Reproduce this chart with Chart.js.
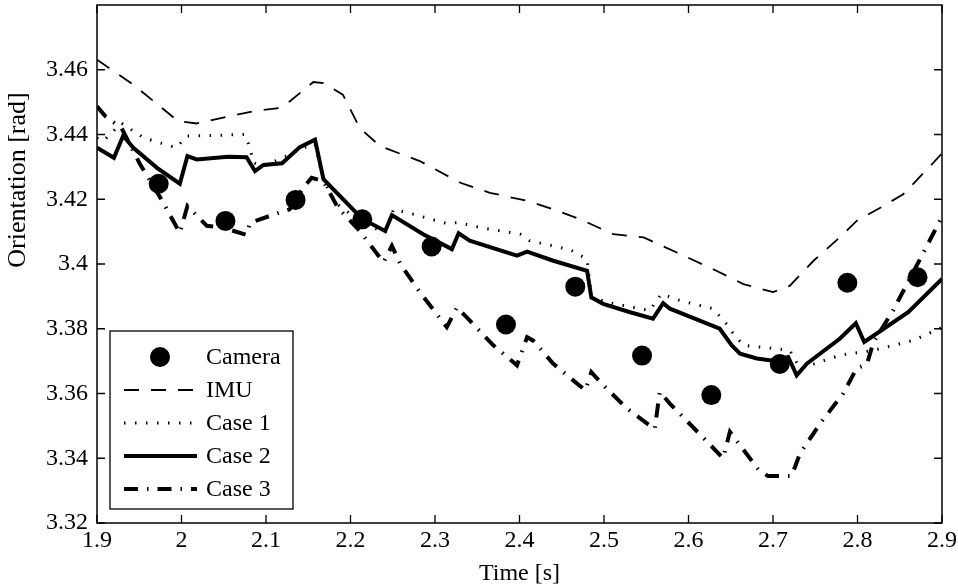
<!DOCTYPE html>
<html><head><meta charset="utf-8">
<script src="https://cdn.jsdelivr.net/npm/chart.js@4"></script>
<style>html,body{margin:0;padding:0;background:#fff}</style>
</head><body>
<canvas id="c" width="958" height="588"></canvas>
<script>
// ---- data ----
const xTicks = [1.9, 2, 2.1, 2.2, 2.3, 2.4, 2.5, 2.6, 2.7, 2.8, 2.9];
const yTicks = [3.32, 3.34, 3.36, 3.38, 3.4, 3.42, 3.44, 3.46];

const camT = [1.973, 2.052, 2.135, 2.214, 2.296, 2.384, 2.466, 2.545, 2.627, 2.708, 2.788, 2.871];
const camY = [3.4248, 3.4133, 3.4198, 3.4138, 3.4054, 3.3813, 3.3930, 3.3717, 3.3595, 3.3691, 3.3942, 3.3959];

const imuT = [1.900, 1.943, 1.996, 2.018, 2.061, 2.085, 2.117, 2.128, 2.156, 2.168, 2.191, 2.211, 2.235, 2.282, 2.330, 2.365, 2.409, 2.440, 2.472, 2.511, 2.547, 2.590, 2.633, 2.665, 2.700, 2.720, 2.748, 2.779, 2.799, 2.827, 2.854, 2.888, 2.900];
const imuY = [3.4631, 3.4554, 3.4441, 3.4434, 3.4459, 3.4472, 3.4482, 3.4502, 3.4562, 3.4559, 3.4523, 3.4420, 3.4364, 3.4318, 3.4251, 3.4220, 3.4195, 3.4169, 3.4138, 3.4092, 3.4082, 3.4031, 3.3979, 3.3938, 3.3913, 3.3933, 3.4010, 3.4082, 3.4133, 3.4174, 3.4215, 3.4308, 3.4342];

const case1T = [1.900, 1.907, 1.929, 1.955, 1.994, 2.006, 2.075, 2.081, 2.085, 2.097, 2.128, 2.144, 2.158, 2.168, 2.184, 2.214, 2.241, 2.251, 2.274, 2.314, 2.328, 2.353, 2.401, 2.412, 2.460, 2.480, 2.485, 2.503, 2.554, 2.568, 2.590, 2.629, 2.645, 2.653, 2.665, 2.704, 2.720, 2.732, 2.779, 2.818, 2.866, 2.900];
const case1Y = [3.4389, 3.4379, 3.4435, 3.4390, 3.4359, 3.4395, 3.4400, 3.4359, 3.4313, 3.4302, 3.4338, 3.4359, 3.4370, 3.4256, 3.4185, 3.4127, 3.4096, 3.4169, 3.4154, 3.4125, 3.4128, 3.4113, 3.4092, 3.4072, 3.4044, 3.4015, 3.3899, 3.3882, 3.3856, 3.3908, 3.3887, 3.3862, 3.3815, 3.3785, 3.3749, 3.3738, 3.3733, 3.3677, 3.3718, 3.3733, 3.3764, 3.3804];

const case2T = [1.900, 1.920, 1.931, 1.943, 1.971, 1.998, 2.007, 2.018, 2.055, 2.077, 2.087, 2.097, 2.119, 2.140, 2.158, 2.168, 2.214, 2.241, 2.249, 2.286, 2.320, 2.328, 2.341, 2.397, 2.409, 2.440, 2.480, 2.485, 2.499, 2.531, 2.558, 2.570, 2.578, 2.637, 2.651, 2.661, 2.681, 2.698, 2.718, 2.728, 2.740, 2.779, 2.798, 2.808, 2.831, 2.860, 2.900];
const case2Y = [3.4359, 3.4328, 3.4396, 3.4359, 3.4297, 3.4248, 3.4333, 3.4323, 3.4331, 3.4330, 3.4287, 3.4306, 3.4311, 3.4361, 3.4384, 3.4262, 3.4139, 3.4102, 3.4151, 3.4092, 3.4046, 3.4095, 3.4072, 3.4026, 3.4038, 3.4010, 3.3979, 3.3897, 3.3877, 3.3851, 3.3831, 3.3879, 3.3862, 3.3800, 3.3749, 3.3723, 3.3708, 3.3702, 3.3713, 3.3656, 3.3692, 3.3769, 3.3817, 3.3759, 3.3800, 3.3851, 3.3954];

const case3T = [1.900, 1.910, 1.929, 1.951, 1.975, 1.998, 2.007, 2.030, 2.049, 2.077, 2.081, 2.105, 2.128, 2.144, 2.154, 2.168, 2.185, 2.211, 2.239, 2.249, 2.259, 2.282, 2.314, 2.326, 2.339, 2.369, 2.397, 2.409, 2.416, 2.440, 2.468, 2.478, 2.485, 2.497, 2.527, 2.560, 2.566, 2.578, 2.618, 2.641, 2.649, 2.683, 2.694, 2.722, 2.732, 2.756, 2.783, 2.799, 2.811, 2.819, 2.842, 2.874, 2.900];
const case3Y = [3.4487, 3.4456, 3.4420, 3.4308, 3.4205, 3.4096, 3.4179, 3.4118, 3.4112, 3.4090, 3.4127, 3.4149, 3.4169, 3.4236, 3.4266, 3.4256, 3.4174, 3.4102, 3.4005, 3.4056, 3.4000, 3.3913, 3.3805, 3.3866, 3.3831, 3.3749, 3.3687, 3.3774, 3.3764, 3.3692, 3.3631, 3.3610, 3.3666, 3.3631, 3.3554, 3.3490, 3.3605, 3.3569, 3.3462, 3.3400, 3.3482, 3.3364, 3.3345, 3.3345, 3.3415, 3.3508, 3.3600, 3.3678, 3.3690, 3.3759, 3.3856, 3.4015, 3.4146];

const seriesNames = ['Camera', 'IMU', 'Case 1', 'Case 2', 'Case 3'];
const xTitle = 'Time [s]';
const yTitle = 'Orientation [rad]';

// ---- styling / build ----
const FAMILY = '"Liberation Serif", "Times New Roman", Times, serif';
const FS = 24;
const pts = (t, v) => t.map((x, i) => ({x: x, y: v[i]}));
const fmt = v => String(Number(Number(v).toFixed(2)));

const lineStyles = [
  null,
  {borderWidth: 1.8, borderDash: [15, 12]},
  {borderWidth: 3, borderDash: [1.5, 9.5]},
  {borderWidth: 4, borderDash: []},
  {borderWidth: 4, borderDash: [14, 9, 1.5, 9]}
];

const datasets = [
  {label: seriesNames[0], data: pts(camT, camY), showLine: false, pointRadius: 10, pointHoverRadius: 10,
   pointBackgroundColor: '#000', pointBorderColor: '#000', pointBorderWidth: 0, order: 5},
  {label: seriesNames[1], data: pts(imuT, imuY), order: 4},
  {label: seriesNames[2], data: pts(case1T, case1Y), order: 3},
  {label: seriesNames[3], data: pts(case2T, case2Y), order: 2},
  {label: seriesNames[4], data: pts(case3T, case3Y), order: 1}
];
for (let i = 1; i < datasets.length; i++) {
  Object.assign(datasets[i], lineStyles[i], {showLine: true, pointRadius: 0, pointHoverRadius: 0,
    borderColor: '#000', backgroundColor: '#000', fill: false, tension: 0, borderCapStyle: 'butt', borderJoinStyle: 'miter'});
}

const framePlugin = {
  id: 'frame',
  afterDatasetsDraw(chart) {
    const {ctx, chartArea: a, scales: {x, y}} = chart;
    ctx.save();
    ctx.strokeStyle = '#000';
    ctx.lineWidth = 1.3;
    ctx.setLineDash([]);
    ctx.beginPath();
    xTicks.forEach(v => {
      const p = x.getPixelForValue(v);
      ctx.moveTo(p, a.bottom); ctx.lineTo(p, a.bottom - 8);
      ctx.moveTo(p, a.top); ctx.lineTo(p, a.top + 8);
    });
    yTicks.forEach(v => {
      const p = y.getPixelForValue(v);
      ctx.moveTo(a.left, p); ctx.lineTo(a.left + 8, p);
      ctx.moveTo(a.right, p); ctx.lineTo(a.right - 8, p);
    });
    ctx.stroke();
    ctx.lineWidth = 1.5;
    ctx.strokeRect(a.left, a.top, a.right - a.left, a.bottom - a.top);

    // legend box
    const L = 110, T = 331, R = 293, B = 509;
    ctx.fillStyle = '#fff';
    ctx.fillRect(L, T, R - L, B - T);
    ctx.lineWidth = 1.3;
    ctx.strokeRect(L, T, R - L, B - T);
    ctx.font = FS + 'px ' + FAMILY;
    ctx.textBaseline = 'middle';
    ctx.textAlign = 'left';
    chart.data.datasets.forEach((ds, i) => {
      const yy = 357 + i * 33;
      if (i === 0) {
        ctx.fillStyle = '#000';
        ctx.beginPath(); ctx.arc(160, yy, 10, 0, Math.PI * 2); ctx.fill();
      } else {
        ctx.save();
        ctx.lineWidth = ds.borderWidth;
        ctx.setLineDash(ds.borderDash || []);
        ctx.lineCap = 'butt';
        ctx.beginPath(); ctx.moveTo(124, yy); ctx.lineTo(197, yy); ctx.stroke();
        ctx.restore();
      }
      ctx.fillStyle = '#000';
      ctx.fillText(ds.label, 206, yy + 1);
    });

    // y axis title
    ctx.save();
    ctx.font = '26px ' + FAMILY;
    ctx.translate(18, 180);
    ctx.rotate(-Math.PI / 2);
    ctx.textAlign = 'center';
    ctx.textBaseline = 'middle';
    ctx.fillText(yTitle, 0, 0);
    ctx.restore();
    ctx.restore();
  }
};

new Chart(document.getElementById('c'), {
  type: 'scatter',
  data: {datasets},
  options: {
    responsive: false,
    animation: false,
    events: [],
    layout: {autoPadding: false, padding: {top: 5, right: 16, left: 0, bottom: 0}},
    plugins: {legend: {display: false}, tooltip: {enabled: false}},
    scales: {
      x: {
        type: 'linear', min: 1.9, max: 2.9,
        afterBuildTicks: s => { s.ticks = xTicks.map(v => ({value: v})); },
        afterFit: s => { s.height = 65; s.paddingLeft = 0; s.paddingRight = 0; },
        ticks: {callback: v => fmt(v), color: '#000', font: {family: FAMILY, size: FS}, padding: 3, maxRotation: 0, autoSkip: false},
        grid: {display: false, drawTicks: false},
        border: {display: false},
        title: {display: true, text: xTitle, color: '#000', font: {family: FAMILY, size: FS, lineHeight: 1.2}, padding: {top: 0, bottom: 0}}
      },
      y: {
        type: 'linear', min: 3.32, max: 3.48,
        afterBuildTicks: s => { s.ticks = yTicks.map(v => ({value: v})); },
        afterFit: s => { s.width = 97; s.paddingTop = 0; s.paddingBottom = 0; },
        ticks: {callback: v => fmt(v), color: '#000', font: {family: FAMILY, size: FS}, padding: 9, autoSkip: false},
        grid: {display: false, drawTicks: false},
        border: {display: false}
      }
    }
  },
  plugins: [framePlugin]
});
</script>
</body></html>
